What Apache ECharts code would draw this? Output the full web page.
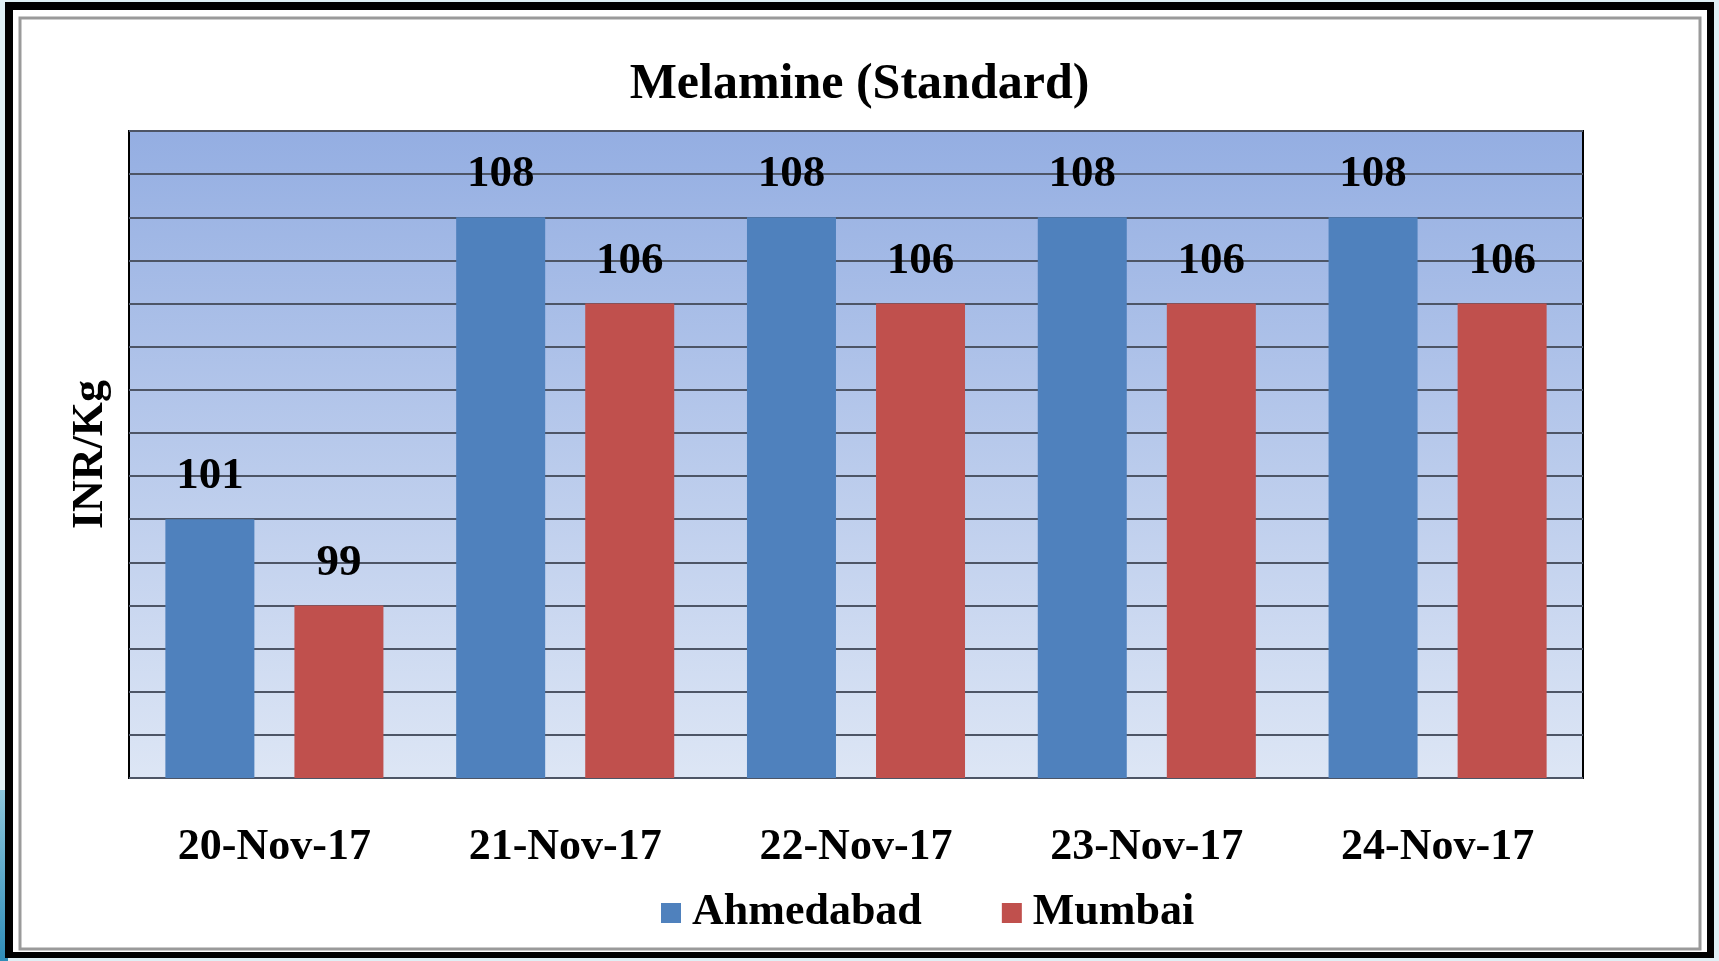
<!DOCTYPE html>
<html lang="en" style="width: 100%;height:100%">
<head>
    <meta charset="UTF-8">
    <title>Melamine (Standard)</title>
    <script src="https://cdn.jsdelivr.net/npm/echarts@6.0.0/dist/echarts.min.js"></script>
</head>
<body style="width: 100%;height:100%;margin:0;background:#dff0f5">
<div id="bar" style="width: 1719px;height:961px"></div>
<script>
    // categories and values
    var dates = ['20-Nov-17', '21-Nov-17', '22-Nov-17', '23-Nov-17', '24-Nov-17'];
    var ahmedabad = [101, 108, 108, 108, 108];
    var mumbai = [99, 106, 106, 106, 106];

    var serif = '"Liberation Serif", "DejaVu Serif", serif';

    const myChart = echarts.init(document.getElementById('bar'));

    const labelStyle = {
        show: true,
        position: 'top',
        distance: 20,
        color: '#000',
        fontFamily: serif,
        fontWeight: 'bold',
        fontSize: 45
    };

    const option = {
        backgroundColor: '#dff0f5',
        // frame around the picture
        graphic: [
            {type: 'rect', z: -10, shape: {x: 0, y: 790, width: 8, height: 171},
                style: {fill: new echarts.graphic.LinearGradient(0, 0, 0, 1, [
                    {offset: 0, color: '#8cc6dc'}, {offset: 1, color: '#2f8db8'}])}},
            {type: 'rect', z: -10, shape: {x: 5, y: 2, width: 1709, height: 956}, style: {fill: '#000'}},
            {type: 'rect', z: -10, shape: {x: 13, y: 10, width: 1694, height: 942}, style: {fill: '#fff'}},
            {type: 'rect', z: -9, shape: {x: 20, y: 18, width: 1680, height: 931},
                style: {fill: null, stroke: '#9a9a9a', lineWidth: 3}}
        ],
        title: {
            text: 'Melamine (Standard)',
            left: 'center',
            top: 55,
            textStyle: {fontFamily: serif, fontWeight: 'bold', fontSize: 50, color: '#000'}
        },
        legend: {
            left: 656,
            top: 886,
            icon: 'rect',
            itemWidth: 20,
            itemHeight: 20,
            itemGap: 80,
            textStyle: {fontFamily: serif, fontWeight: 'bold', fontSize: 44, color: '#000', padding: [0, 0, 0, 6]}
        },
        grid: {
            left: 129,
            top: 131,
            right: 136,
            bottom: 183,
            show: true,
            borderColor: '#000',
            borderWidth: 2,
            backgroundColor: new echarts.graphic.LinearGradient(0, 0, 0, 1, [
                {offset: 0, color: '#94aee2'},
                {offset: 1, color: '#dde6f5'}
            ])
        },
        xAxis: {
            type: 'category',
            data: dates,
            axisLine: {show: false},
            axisTick: {show: false},
            axisLabel: {margin: 48, color: '#000', fontFamily: serif, fontWeight: 'bold', fontSize: 44}
        },
        yAxis: {
            type: 'value',
            min: 95,
            max: 110,
            interval: 1,
            name: 'INR/Kg',
            nameLocation: 'middle',
            nameGap: 16,
            nameTextStyle: {color: '#000', fontFamily: serif, fontWeight: 'bold', fontSize: 44},
            axisLine: {show: false},
            axisTick: {show: false},
            axisLabel: {show: false},
            splitLine: {lineStyle: {color: '#4d5566', width: 2}}
        },
        series: [
            {
                name: 'Ahmedabad',
                type: 'bar',
                data: ahmedabad,
                barWidth: 89,
                barGap: '45%',
                itemStyle: {color: '#4f81bd'},
                label: labelStyle
            },
            {
                name: 'Mumbai',
                type: 'bar',
                data: mumbai,
                barWidth: 89,
                barGap: '45%',
                itemStyle: {color: '#c0504d'},
                label: labelStyle
            }
        ]
    };

    myChart.setOption(option);
</script>
</body>
</html>
